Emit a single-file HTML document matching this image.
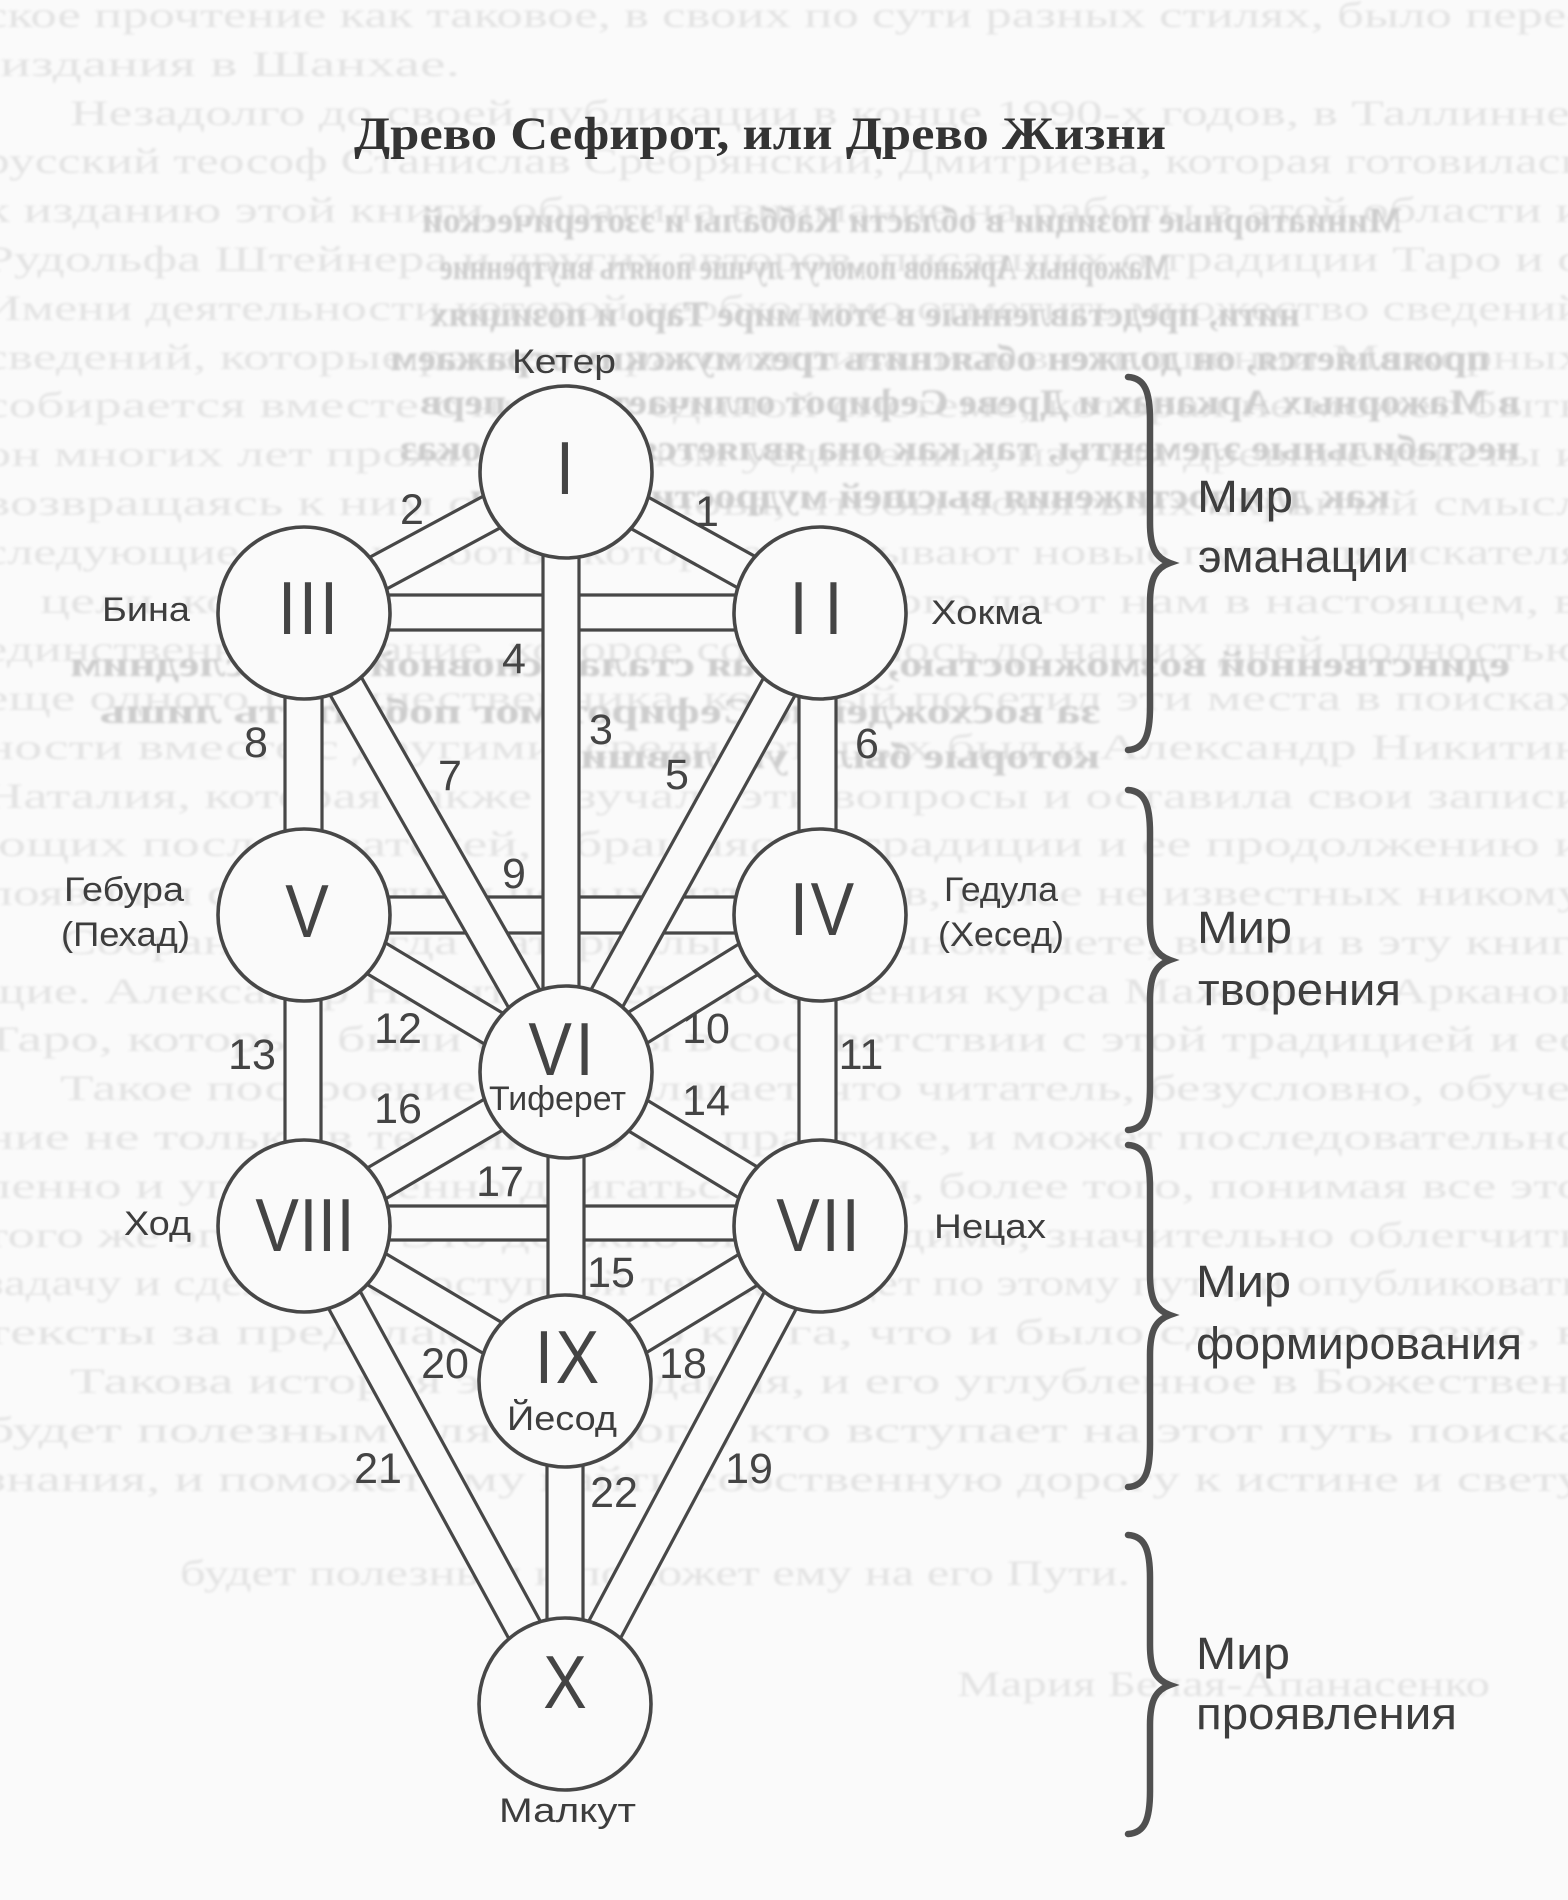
<!DOCTYPE html>
<html><head><meta charset="utf-8"><style>
html,body{margin:0;padding:0;background:#fafafa;}
svg{display:block;}
.bl{font-family:"Liberation Serif",serif;font-size:36px;fill:#e3e3e3;}
.dk{font-family:"Liberation Serif",serif;font-size:36px;font-weight:bold;fill:#cdcdcd;}
.ch{fill:#fafafa;stroke:none;}
.ln{stroke:#474747;stroke-width:3.2;fill:none;}
.cir{fill:#fafafa;stroke:#474747;stroke-width:3.6;}
.rn{font-family:"Liberation Sans",sans-serif;font-size:75px;fill:#444;}
.num{font-family:"Liberation Sans",sans-serif;font-size:43px;fill:#444;text-anchor:middle;}
.lb{font-family:"Liberation Sans",sans-serif;font-size:34px;fill:#3d3d3d;}
.wl{font-family:"Liberation Sans",sans-serif;font-size:45px;fill:#3d3d3d;}
.br{stroke:#505050;stroke-width:6.5;fill:none;stroke-linecap:round;}
</style></head><body>
<svg width="1568" height="1900" viewBox="0 0 1568 1900" xmlns="http://www.w3.org/2000/svg">
<defs><filter id="bl" x="-5%" y="-50%" width="110%" height="200%"><feGaussianBlur stdDeviation="1.4"/></filter></defs>
<rect width="1568" height="1900" fill="#fafafa"/>

<!-- bleed-through text -->
<g filter="url(#bl)">
<text class="bl" x="-16" y="27" textLength="1600" lengthAdjust="spacingAndGlyphs">ское прочтение как таковое, в своих по сути разных стилях, было пере-</text>
<text class="bl" x="0" y="76" textLength="460" lengthAdjust="spacingAndGlyphs">издания в Шанхае.</text>
<text class="bl" x="70" y="125" textLength="1500" lengthAdjust="spacingAndGlyphs">Незадолго до своей публикации в конце 1990-х годов, в Таллинне</text>
<text class="bl" x="-16" y="173" textLength="1600" lengthAdjust="spacingAndGlyphs">русский теософ Станислав Сребрянский, Дмитриева, которая готовилась</text>
<text class="bl" x="-16" y="222" textLength="1600" lengthAdjust="spacingAndGlyphs">к изданию этой книги, обратила внимание на работы в этой области и</text>
<text class="bl" x="-16" y="271" textLength="1600" lengthAdjust="spacingAndGlyphs">Рудольфа Штейнера и других авторов, писавших о традиции Таро и о</text>
<text class="bl" x="-16" y="320" textLength="1600" lengthAdjust="spacingAndGlyphs">Имени деятельности которой необходимо отметить множество сведений</text>
<text class="bl" x="-16" y="369" textLength="1600" lengthAdjust="spacingAndGlyphs">сведений, которые ранее не рассматривались в отношении Мажорных</text>
<text class="bl" x="-16" y="417" textLength="1600" lengthAdjust="spacingAndGlyphs">собирается вместе с ними в единой системе, которая не может быть</text>
<text class="bl" x="-16" y="466" textLength="1600" lengthAdjust="spacingAndGlyphs">он многих лет прожил в полном уединении, изучая древние тексты и</text>
<text class="bl" x="-16" y="515" textLength="1600" lengthAdjust="spacingAndGlyphs">возвращаясь к ним снова и снова, чтобы понять их скрытый смысл</text>
<text class="bl" x="-16" y="564" textLength="1600" lengthAdjust="spacingAndGlyphs">следующие этапы работы, которые открывают новые пути для искателя</text>
<text class="bl" x="40" y="613" textLength="1540" lengthAdjust="spacingAndGlyphs">цели, которое знание и опыт прошлого дают нам в настоящем, в</text>
<text class="bl" x="-16" y="661" textLength="1600" lengthAdjust="spacingAndGlyphs">единственное издание, которое сохранилось до наших дней полностью</text>
<text class="bl" x="-16" y="710" textLength="1600" lengthAdjust="spacingAndGlyphs">еще одного путешественника, который посетил эти места в поисках</text>
<text class="bl" x="-16" y="759" textLength="1600" lengthAdjust="spacingAndGlyphs">ности вместе с другими, среди которых был и Александр Никитин</text>
<text class="bl" x="-16" y="808" textLength="1600" lengthAdjust="spacingAndGlyphs">Наталия, которая также изучала эти вопросы и оставила свои записи</text>
<text class="bl" x="-16" y="856" textLength="1600" lengthAdjust="spacingAndGlyphs">ющих последователей, обращаясь к традиции и ее продолжению и</text>
<text class="bl" x="-16" y="905" textLength="1600" lengthAdjust="spacingAndGlyphs">появился с открытием новых материалов, ранее не известных никому</text>
<text class="bl" x="60" y="954" textLength="1540" lengthAdjust="spacingAndGlyphs">Собранные тогда материалы, в конечном счете, вошли в эту книгу</text>
<text class="bl" x="-16" y="1003" textLength="1600" lengthAdjust="spacingAndGlyphs">щие. Александр Никитин и его построения курса Мажорных Арканов</text>
<text class="bl" x="-16" y="1051" textLength="1600" lengthAdjust="spacingAndGlyphs">Таро, которые были созданы в соответствии с этой традицией и ее</text>
<text class="bl" x="60" y="1100" textLength="1540" lengthAdjust="spacingAndGlyphs">Такое построение предполагает, что читатель, безусловно, обучен</text>
<text class="bl" x="-16" y="1149" textLength="1600" lengthAdjust="spacingAndGlyphs">ние не только в теории, но и в практике, и может последовательно</text>
<text class="bl" x="-16" y="1198" textLength="1600" lengthAdjust="spacingAndGlyphs">ленно и упорядоченно двигаться к цели, более того, понимая все это</text>
<text class="bl" x="-16" y="1247" textLength="1600" lengthAdjust="spacingAndGlyphs">того же эгрегора. Это должно было, видимо, значительно облегчить</text>
<text class="bl" x="-16" y="1295" textLength="1600" lengthAdjust="spacingAndGlyphs">задачу и сделать ее доступной тем, кто идет по этому пути, и опубликовать</text>
<text class="bl" x="-16" y="1344" textLength="1600" lengthAdjust="spacingAndGlyphs">тексты за пределами своего круга, что и было сделано позже, в</text>
<text class="bl" x="70" y="1393" textLength="1500" lengthAdjust="spacingAndGlyphs">Такова история этого издания, и его углубленное в Божествен</text>
<text class="bl" x="-16" y="1442" textLength="1600" lengthAdjust="spacingAndGlyphs">будет полезным для каждого, кто вступает на этот путь поиска</text>
<text class="bl" x="-16" y="1491" textLength="1600" lengthAdjust="spacingAndGlyphs">знания, и поможет ему найти собственную дорогу к истине и свету</text>
<text class="bl" x="180" y="1585" textLength="950" lengthAdjust="spacingAndGlyphs">будет полезным и поможет ему на его Пути.</text>
<text class="bl" x="957" y="1696" textLength="533" lengthAdjust="spacingAndGlyphs">Мария Белая-Апанасенко</text>
</g>
<g filter="url(#bl)">
<text class="dk" transform="translate(912,232) scale(-1,1)" text-anchor="middle" textLength="980" lengthAdjust="spacingAndGlyphs">Миниатюрные позиции в области Каббалы и эзотерической</text>
<text class="dk" transform="translate(805,279) scale(-1,1)" text-anchor="middle" textLength="730" lengthAdjust="spacingAndGlyphs">Мажорных Арканов помогут лучше понять внутренние</text>
<text class="dk" transform="translate(865,326) scale(-1,1)" text-anchor="middle" textLength="870" lengthAdjust="spacingAndGlyphs">нити, представленные в этом мире Таро и позициях</text>
<text class="dk" transform="translate(940,370) scale(-1,1)" text-anchor="middle" textLength="1100" lengthAdjust="spacingAndGlyphs">проявляется, он должен объяснить трех мужских отражаем</text>
<text class="dk" transform="translate(970,414) scale(-1,1)" text-anchor="middle" textLength="1100" lengthAdjust="spacingAndGlyphs">в Мажорных Арканах и Древе Сефирот отличается не перв</text>
<text class="dk" transform="translate(960,460) scale(-1,1)" text-anchor="middle" textLength="1120" lengthAdjust="spacingAndGlyphs">нестабильные элементы, так как она является путем доказ</text>
<text class="dk" transform="translate(930,508) scale(-1,1)" text-anchor="middle" textLength="920" lengthAdjust="spacingAndGlyphs">как для достижения высшей мудрости и знания</text>
<text class="dk" transform="translate(790,676) scale(-1,1)" text-anchor="middle" textLength="1440" lengthAdjust="spacingAndGlyphs">единственной возможностью, которая стала основной по последним</text>
<text class="dk" transform="translate(600,723) scale(-1,1)" text-anchor="middle" textLength="1000" lengthAdjust="spacingAndGlyphs">за восхождение Сефирот мог побратить лишь</text>
<text class="dk" transform="translate(830,768) scale(-1,1)" text-anchor="middle" textLength="540" lengthAdjust="spacingAndGlyphs">которые были уцелевшие</text>
</g>

<!-- title -->
<text x="354" y="149" font-family="Liberation Serif, serif" font-weight="bold" font-size="47" fill="#333" textLength="812" lengthAdjust="spacingAndGlyphs">Древо Сефирот, или Древо Жизни</text>

<!-- horizontal channels -->
<g>
<rect class="ch" x="304" y="595" width="516" height="35"/><line class="ln" x1="304" y1="595" x2="820" y2="595"/><line class="ln" x1="304" y1="630" x2="820" y2="630"/>
<rect class="ch" x="304" y="897" width="516" height="36"/><line class="ln" x1="304" y1="897" x2="820" y2="897"/><line class="ln" x1="304" y1="933" x2="820" y2="933"/>
<rect class="ch" x="304" y="1206" width="516" height="34"/><line class="ln" x1="304" y1="1206" x2="820" y2="1206"/><line class="ln" x1="304" y1="1240" x2="820" y2="1240"/>
</g>

<!-- diagonal channels -->
<g>
<polygon class="ch" points="557.3,487.7 811.3,628.7 828.7,597.3 574.7,456.3"/><line class="ln" x1="557.3" y1="487.7" x2="811.3" y2="628.7"/><line class="ln" x1="574.7" y1="456.3" x2="828.7" y2="597.3"/>
<polygon class="ch" points="557.5,456.2 295.5,597.2 312.5,628.9 574.5,487.9"/><line class="ln" x1="557.5" y1="456.2" x2="295.5" y2="597.2"/><line class="ln" x1="574.5" y1="487.9" x2="312.5" y2="628.9"/>
<polygon class="ch" points="288.4,621.9 550.4,1080.9 581.6,1063.1 319.6,604.1"/><line class="ln" x1="288.4" y1="621.9" x2="550.4" y2="1080.9"/><line class="ln" x1="319.6" y1="604.1" x2="581.6" y2="1063.1"/>
<polygon class="ch" points="804.3,604.3 550.3,1063.3 581.8,1080.7 835.8,621.7"/><line class="ln" x1="804.3" y1="604.3" x2="550.3" y2="1063.3"/><line class="ln" x1="835.8" y1="621.7" x2="581.8" y2="1080.7"/>
<polygon class="ch" points="294.8,930.4 556.8,1087.4 575.3,1056.6 313.3,899.6"/><line class="ln" x1="294.8" y1="930.4" x2="556.8" y2="1087.4"/><line class="ln" x1="313.3" y1="899.6" x2="575.3" y2="1056.6"/>
<polygon class="ch" points="810.5,899.7 556.5,1056.7 575.5,1087.3 829.5,930.3"/><line class="ln" x1="810.5" y1="899.7" x2="556.5" y2="1056.7"/><line class="ln" x1="829.5" y1="930.3" x2="575.5" y2="1087.3"/>
<polygon class="ch" points="313.1,1241.5 575.1,1087.5 556.9,1056.5 294.9,1210.5"/><line class="ln" x1="313.1" y1="1241.5" x2="575.1" y2="1087.5"/><line class="ln" x1="294.9" y1="1210.5" x2="556.9" y2="1056.5"/>
<polygon class="ch" points="829.3,1210.6 575.3,1056.6 556.7,1087.4 810.7,1241.4"/><line class="ln" x1="829.3" y1="1210.6" x2="575.3" y2="1056.6"/><line class="ln" x1="810.7" y1="1241.4" x2="556.7" y2="1087.4"/>
<polygon class="ch" points="294.8,1241.5 555.8,1396.5 574.2,1365.5 313.2,1210.5"/><line class="ln" x1="294.8" y1="1241.5" x2="555.8" y2="1396.5"/><line class="ln" x1="313.2" y1="1210.5" x2="574.2" y2="1365.5"/>
<polygon class="ch" points="810.7,1210.6 555.7,1365.6 574.4,1396.4 829.4,1241.4"/><line class="ln" x1="810.7" y1="1210.6" x2="555.7" y2="1365.6"/><line class="ln" x1="829.4" y1="1241.4" x2="574.4" y2="1396.4"/>
<polygon class="ch" points="288.2,1234.6 549.2,1712.6 580.8,1695.4 319.8,1217.4"/><line class="ln" x1="288.2" y1="1234.6" x2="549.2" y2="1712.6"/><line class="ln" x1="319.8" y1="1217.4" x2="580.8" y2="1695.4"/>
<polygon class="ch" points="804.1,1217.5 549.1,1695.5 580.9,1712.5 835.9,1234.5"/><line class="ln" x1="804.1" y1="1217.5" x2="549.1" y2="1695.5"/><line class="ln" x1="835.9" y1="1234.5" x2="580.9" y2="1712.5"/>
</g>

<!-- vertical channels -->
<g>
<rect class="ch" x="285" y="613" width="37" height="302"/><line class="ln" x1="285" y1="613" x2="285" y2="915"/><line class="ln" x1="322" y1="613" x2="322" y2="915"/>
<rect class="ch" x="285" y="915" width="36" height="311"/><line class="ln" x1="285" y1="915" x2="285" y2="1226"/><line class="ln" x1="321" y1="915" x2="321" y2="1226"/>
<rect class="ch" x="799" y="613" width="37" height="302"/><line class="ln" x1="799" y1="613" x2="799" y2="915"/><line class="ln" x1="836" y1="613" x2="836" y2="915"/>
<rect class="ch" x="799" y="915" width="37" height="311"/><line class="ln" x1="799" y1="915" x2="799" y2="1226"/><line class="ln" x1="836" y1="915" x2="836" y2="1226"/>
<rect class="ch" x="543" y="472" width="36" height="600"/><line class="ln" x1="543" y1="472" x2="543" y2="1072"/><line class="ln" x1="579" y1="472" x2="579" y2="1072"/>
<rect class="ch" x="548" y="1072" width="36" height="309"/><line class="ln" x1="548" y1="1072" x2="548" y2="1381"/><line class="ln" x1="584" y1="1072" x2="584" y2="1381"/>
<rect class="ch" x="547" y="1381" width="36" height="323"/><line class="ln" x1="547" y1="1381" x2="547" y2="1704"/><line class="ln" x1="583" y1="1381" x2="583" y2="1704"/>
</g>

<!-- circles -->
<g>
<circle class="cir" cx="566" cy="472" r="86"/>
<circle class="cir" cx="820" cy="613" r="86"/>
<circle class="cir" cx="304" cy="613" r="86"/>
<circle class="cir" cx="820" cy="915" r="86"/>
<circle class="cir" cx="304" cy="915" r="86"/>
<circle class="cir" cx="566" cy="1072" r="86"/>
<circle class="cir" cx="820" cy="1226" r="86"/>
<circle class="cir" cx="304" cy="1226" r="86"/>
<circle class="cir" cx="565" cy="1381" r="86"/>
<circle class="cir" cx="565" cy="1704" r="86"/>
</g>

<!-- roman numerals -->
<g>
<text class="rn" text-anchor="middle" transform="translate(565,494) scale(0.87,1)">I</text>
<text class="rn" text-anchor="middle" transform="translate(816,634) scale(0.87,1)" textLength="61" lengthAdjust="spacing">II</text>
<text class="rn" text-anchor="middle" transform="translate(308,634) scale(0.87,1)" textLength="69" lengthAdjust="spacing">III</text>
<text class="rn" text-anchor="middle" transform="translate(822,935) scale(0.87,1)" textLength="74" lengthAdjust="spacing">IV</text>
<text class="rn" text-anchor="middle" transform="translate(307,937) scale(0.87,1)">V</text>
<text class="rn" text-anchor="middle" transform="translate(561,1075) scale(0.87,1)" textLength="75" lengthAdjust="spacing">VI</text>
<text class="rn" text-anchor="middle" transform="translate(818,1251) scale(0.87,1)" textLength="96" lengthAdjust="spacing">VII</text>
<text class="rn" text-anchor="middle" transform="translate(305,1251) scale(0.87,1)" textLength="114" lengthAdjust="spacing">VIII</text>
<text class="rn" text-anchor="middle" transform="translate(567,1383) scale(0.87,1)" textLength="74" lengthAdjust="spacing">IX</text>
<text class="rn" text-anchor="middle" transform="translate(565,1708) scale(0.87,1)">X</text>
</g>

<!-- path numbers -->
<g>
<text class="num" x="707" y="526">1</text>
<text class="num" x="412" y="524">2</text>
<text class="num" x="601" y="744">3</text>
<text class="num" x="514" y="673">4</text>
<text class="num" x="677" y="789">5</text>
<text class="num" x="867" y="758">6</text>
<text class="num" x="450" y="790">7</text>
<text class="num" x="256" y="757">8</text>
<text class="num" x="514" y="888">9</text>
<text class="num" x="706" y="1043">10</text>
<text class="num" x="861" y="1069">11</text>
<text class="num" x="398" y="1043">12</text>
<text class="num" x="252" y="1069">13</text>
<text class="num" x="706" y="1115">14</text>
<text class="num" x="611" y="1287">15</text>
<text class="num" x="398" y="1123">16</text>
<text class="num" x="500" y="1196">17</text>
<text class="num" x="683" y="1378">18</text>
<text class="num" x="749" y="1483">19</text>
<text class="num" x="445" y="1378">20</text>
<text class="num" x="378" y="1483">21</text>
<text class="num" x="614" y="1507">22</text>
</g>

<!-- sephirot names -->
<g>
<text class="lb" x="512" y="373" textLength="104" lengthAdjust="spacingAndGlyphs">Кетер</text>
<text class="lb" x="102" y="621" textLength="88" lengthAdjust="spacingAndGlyphs">Бина</text>
<text class="lb" x="931" y="624" textLength="111" lengthAdjust="spacingAndGlyphs">Хокма</text>
<text class="lb" x="64" y="901" textLength="120" lengthAdjust="spacingAndGlyphs">Гебура</text>
<text class="lb" x="61" y="946" textLength="129" lengthAdjust="spacingAndGlyphs">(Пехад)</text>
<text class="lb" x="944" y="901" textLength="114" lengthAdjust="spacingAndGlyphs">Гедула</text>
<text class="lb" x="938" y="946" textLength="126" lengthAdjust="spacingAndGlyphs">(Хесед)</text>
<text class="lb" x="124" y="1235" textLength="67" lengthAdjust="spacingAndGlyphs">Ход</text>
<text class="lb" x="934" y="1238" textLength="112" lengthAdjust="spacingAndGlyphs">Нецах</text>
<text class="lb" x="489" y="1110" textLength="137" lengthAdjust="spacingAndGlyphs">Тиферет</text>
<text class="lb" x="507" y="1430" textLength="110" lengthAdjust="spacingAndGlyphs">Йесод</text>
<text class="lb" x="499" y="1822" textLength="137" lengthAdjust="spacingAndGlyphs">Малкут</text>
</g>

<!-- braces -->
<g>
<path class="br" d="M1128,377 C1145,378 1150,392 1150,420 L1150,523 C1150,548 1156,558 1170,563 C1156,568 1150,578 1150,603 L1150,707 C1150,735 1145,749 1128,750"/>
<path class="br" d="M1128,790 C1145,791 1150,805 1150,833 L1150,920 C1150,945 1156,955 1170,960 C1156,965 1150,975 1150,1000 L1150,1087 C1150,1115 1145,1129 1128,1130"/>
<path class="br" d="M1128,1145 C1145,1146 1150,1160 1150,1188 L1150,1275 C1150,1300 1156,1310 1170,1315 C1156,1320 1150,1330 1150,1355 L1150,1444 C1150,1472 1145,1486 1128,1487"/>
<path class="br" d="M1128,1535 C1145,1536 1150,1550 1150,1578 L1150,1645 C1150,1670 1156,1680 1170,1685 C1156,1690 1150,1700 1150,1725 L1150,1791 C1150,1819 1145,1833 1128,1834"/>
</g>

<!-- world labels -->
<g>
<text class="wl" x="1197" y="512" textLength="96" lengthAdjust="spacingAndGlyphs">Мир</text>
<text class="wl" x="1198" y="572" textLength="211" lengthAdjust="spacingAndGlyphs">эманации</text>
<text class="wl" x="1197" y="943" textLength="95" lengthAdjust="spacingAndGlyphs">Мир</text>
<text class="wl" x="1198" y="1005" textLength="203" lengthAdjust="spacingAndGlyphs">творения</text>
<text class="wl" x="1196" y="1297" textLength="95" lengthAdjust="spacingAndGlyphs">Мир</text>
<text class="wl" x="1196" y="1359" textLength="326" lengthAdjust="spacingAndGlyphs">формирования</text>
<text class="wl" x="1196" y="1669" textLength="94" lengthAdjust="spacingAndGlyphs">Мир</text>
<text class="wl" x="1196" y="1729" textLength="261" lengthAdjust="spacingAndGlyphs">проявления</text>
</g>
</svg>
</body></html>
